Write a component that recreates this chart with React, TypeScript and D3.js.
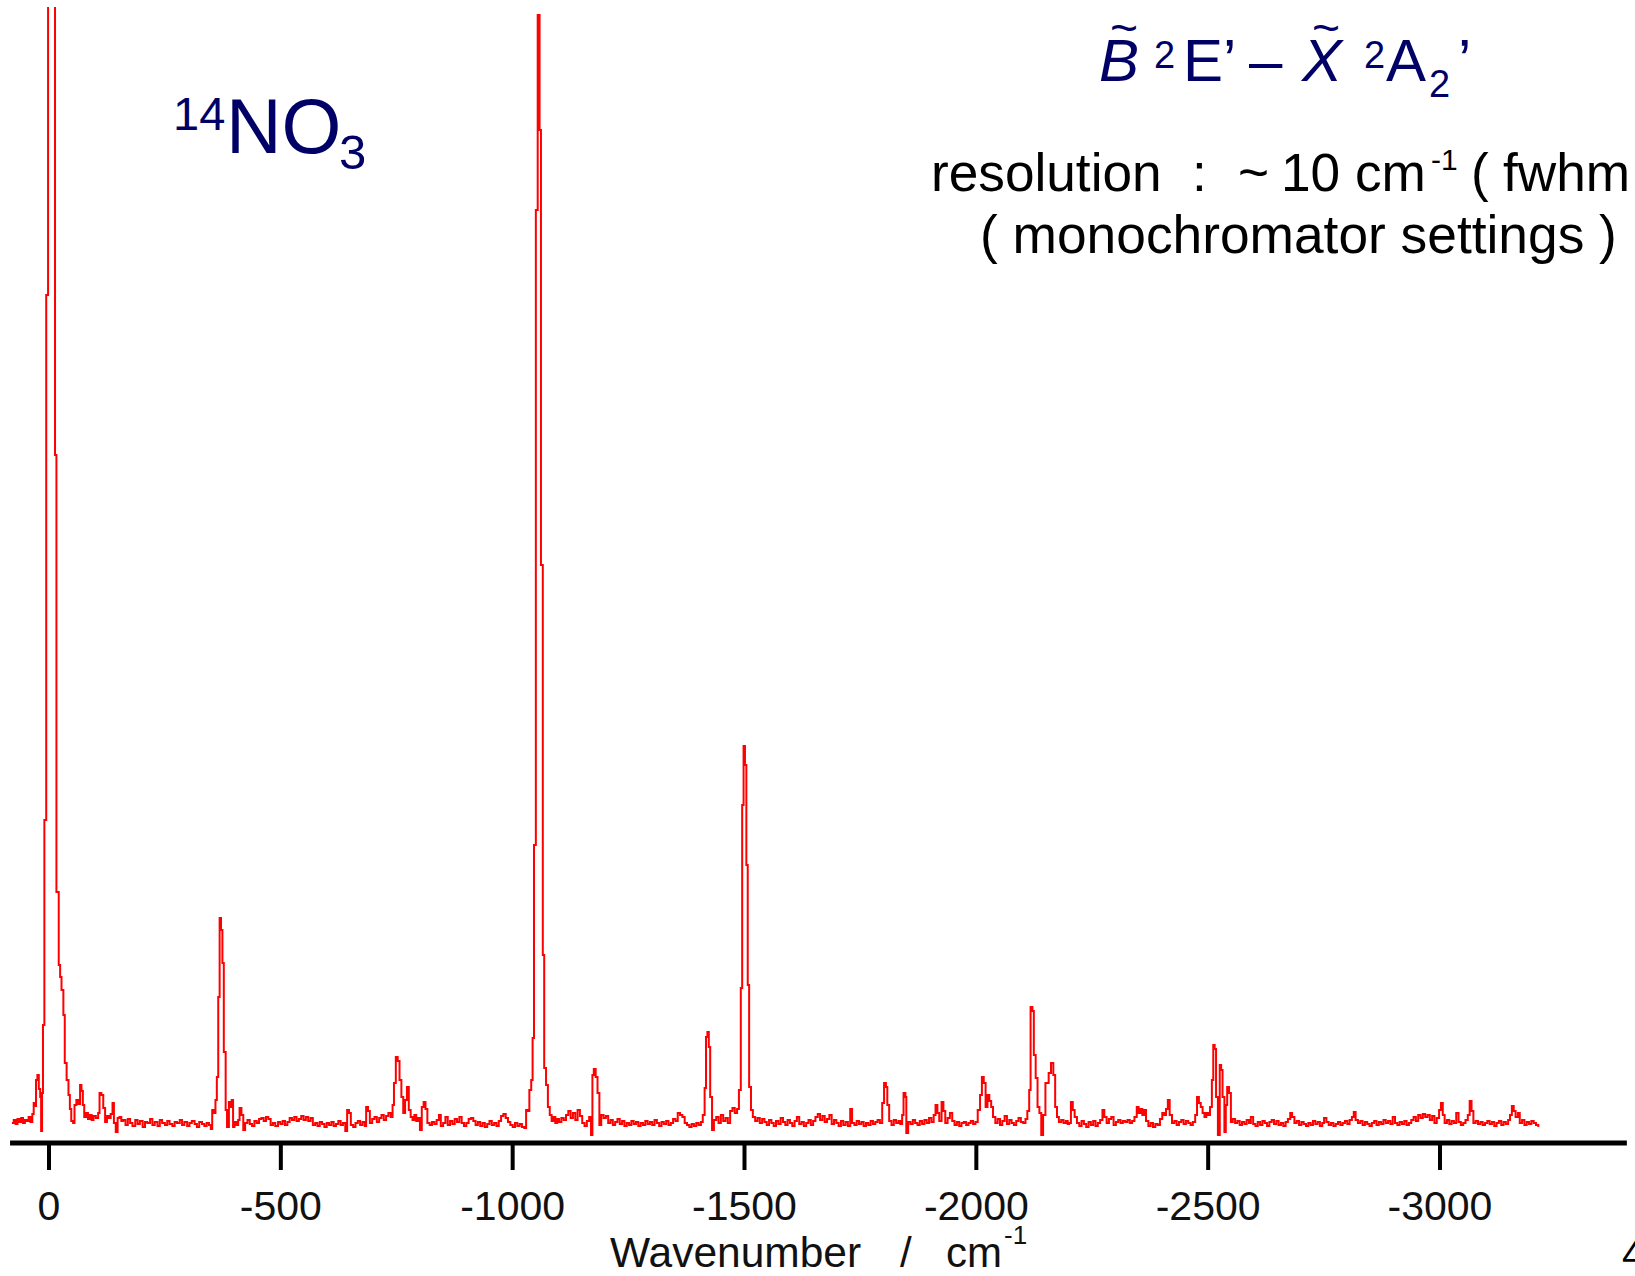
import React from "react";
import * as d3 from "d3";

// Spectrum: [wavenumber / cm^-1, intensity (arb.)]
const originBand: [number, number][] = [
  [80,12],[76,15],[72,11],[68,16],[64,13],[60,17],[56,12],[52,15],[48,14],[44,18],[40,13],[36,21],[33,32],[30,29],[28,55],[25,60],[22,46],[19,38],[17,4],[15,42],[13,110],[10,315],[6,840],[2,1500],[-13,680],[-16,243],[-21,170],[-24,158],[-27,145],[-31,120],[-34,72],[-38,55],[-42,40],[-45,26],[-48,14],[-52,12],[-55,30],[-59,35],[-63,31],[-67,50],[-70,44],[-73,30],[-76,18],[-80,22],[-84,16],[-88,20],[-92,15],[-96,19],[-101,17],[-106,22],[-109,42],[-113,40],[-117,27],[-121,13],[-125,19],[-129,17],[-133,21],[-137,32],[-140,12],[-144,3],[-148,17],[-152,18],[-156,14]
];

const band370: [number, number][] = [
  [-160,15],[-165,10],[-170,16],[-175,12],[-180,9],[-186,15],[-191,11],[-196,14],[-202,8],[-207,13],[-212,12],[-218,16],[-223,10],[-228,13],[-234,9],[-239,15],[-244,12],[-250,10],[-255,14],[-260,11],[-266,9],[-271,13],[-276,12],[-282,15],[-287,10],[-292,13],[-298,9],[-303,12],[-308,14],[-314,11],[-319,8],[-324,13],[-330,11],[-335,9],[-340,12],[-345,10],[-349,6],[-352,25],[-356,22],[-359,35],[-362,58],[-365,138],[-368,217],[-371,205],[-374,172],[-377,83],[-381,25],[-384,8],[-388,33],[-391,28],[-394,35],[-397,8],[-400,13],[-404,10],[-408,15],[-411,27],[-415,20],[-419,5]
];

const band755: [number, number][] = [
  [-423,12],[-428,15],[-433,11],[-438,9],[-443,14],[-448,12],[-453,16],[-458,17],[-463,14],[-468,18],[-473,16],[-478,10],[-483,12],[-488,9],[-494,13],[-499,11],[-504,14],[-509,10],[-514,13],[-519,17],[-524,15],[-529,18],[-534,14],[-539,16],[-544,19],[-549,15],[-554,18],[-559,14],[-564,17],[-569,10],[-574,12],[-579,9],[-584,13],[-589,11],[-594,8],[-599,12],[-604,10],[-609,13],[-614,9],[-619,11],[-624,14],[-629,10],[-634,12],[-639,4],[-643,25],[-647,22],[-651,10],[-656,8],[-661,12],[-666,14],[-671,10],[-676,13],[-681,9],[-684,28],[-688,24],[-692,12],[-697,16],[-702,18],[-707,13],[-712,17],[-717,20],[-722,15],[-727,19],[-732,22],[-737,18],[-741,30],[-744,52],[-748,78],[-752,74],[-756,55],[-760,38],[-764,22],[-768,35],[-772,48],[-776,25],[-780,18],[-784,15],[-788,20],[-792,14],[-796,17],[-800,5],[-804,28],[-808,33],[-812,26],[-816,12],[-821,10],[-826,13],[-831,11],[-836,15],[-841,20],[-845,9],[-850,12],[-855,18],[-860,10]
];

const band1050: [number, number][] = [
  [-865,14],[-870,11],[-875,16],[-880,13],[-885,18],[-890,12],[-895,9],[-900,12],[-905,16],[-910,17],[-915,14],[-920,10],[-925,13],[-930,9],[-935,12],[-940,8],[-945,11],[-950,14],[-955,10],[-960,12],[-965,9],[-970,14],[-975,19],[-980,21],[-985,17],[-990,13],[-995,10],[-1000,8],[-1005,12],[-1010,9],[-1015,11],[-1020,8],[-1025,7],[-1029,25],[-1033,24],[-1036,45],[-1040,55],[-1043,97],[-1046,290],[-1050,925],[-1054,1120],[-1058,1005],[-1061,570],[-1065,180],[-1068,67],[-1072,50],[-1076,28],[-1080,20],[-1084,14],[-1088,18],[-1092,12],[-1096,16],[-1100,13],[-1105,17],[-1110,15]
];

const band1180: [number, number][] = [
  [-1115,20],[-1120,24],[-1125,17],[-1130,22],[-1135,15],[-1140,25],[-1145,19],[-1150,12],[-1155,9],[-1160,14],[-1165,18],[-1169,0],[-1172,60],[-1175,66],[-1179,58],[-1183,42],[-1187,10],[-1191,20],[-1196,17],[-1201,19],[-1206,12],[-1211,15],[-1216,10],[-1221,13],[-1226,16],[-1231,11],[-1236,14],[-1241,9],[-1246,12],[-1251,10],[-1256,14],[-1261,11],[-1266,13],[-1271,9],[-1276,12],[-1281,10],[-1286,14],[-1291,11],[-1296,13],[-1301,10],[-1306,15],[-1311,12],[-1316,9],[-1321,13],[-1326,11],[-1331,14],[-1336,10],[-1341,12],[-1346,16],[-1351,14],[-1356,22],[-1361,20],[-1366,18],[-1371,12],[-1376,10],[-1381,8],[-1386,11],[-1391,9],[-1396,12],[-1401,10],[-1406,13]
];

const band1500: [number, number][] = [
  [-1410,20],[-1414,47],[-1417,98],[-1420,103],[-1423,88],[-1426,38],[-1430,5],[-1434,15],[-1439,18],[-1444,12],[-1449,20],[-1454,14],[-1459,17],[-1464,12],[-1469,24],[-1474,27],[-1479,22],[-1484,26],[-1488,45],[-1492,147],[-1495,330],[-1498,389],[-1501,370],[-1504,270],[-1507,150],[-1510,48],[-1514,25],[-1518,18],[-1523,14],[-1528,17],[-1533,12],[-1538,16],[-1543,13],[-1548,10],[-1553,15],[-1558,12],[-1563,9],[-1568,14],[-1573,11],[-1578,17],[-1583,13],[-1588,10],[-1593,15],[-1598,12],[-1603,9],[-1608,14],[-1613,18],[-1618,11],[-1623,13],[-1628,9],[-1633,12],[-1638,15],[-1643,10],[-1648,14],[-1653,18],[-1658,21],[-1663,15],[-1668,19],[-1673,13],[-1678,16],[-1683,20],[-1688,11],[-1693,15],[-1698,12],[-1703,9],[-1708,14],[-1713,10],[-1718,13],[-1723,9],[-1728,26],[-1732,12],[-1737,10],[-1742,14],[-1747,11],[-1752,13],[-1757,9],[-1762,12],[-1767,10],[-1772,14],[-1777,11],[-1782,13],[-1787,15],[-1792,12]
];

const band2120: [number, number][] = [
  [-1797,32],[-1801,52],[-1805,48],[-1808,30],[-1812,14],[-1817,10],[-1822,15],[-1827,12],[-1832,14],[-1836,11],[-1840,20],[-1843,42],[-1847,38],[-1849,2],[-1853,13],[-1858,11],[-1863,15],[-1868,12],[-1873,10],[-1878,14],[-1883,11],[-1888,15],[-1893,12],[-1898,17],[-1903,13],[-1908,20],[-1912,30],[-1916,22],[-1920,14],[-1925,33],[-1929,24],[-1933,12],[-1938,17],[-1943,22],[-1948,14],[-1953,10],[-1958,13],[-1963,9],[-1968,12],[-1973,13],[-1978,10],[-1983,12],[-1988,14],[-1993,11],[-1998,13],[-2003,25],[-2008,40],[-2012,58],[-2016,52],[-2020,28],[-2024,40],[-2028,34],[-2032,28],[-2036,18],[-2041,12],[-2046,16],[-2051,10],[-2056,14],[-2061,19],[-2066,11],[-2071,15],[-2076,12],[-2081,10],[-2086,14],[-2091,17],[-2096,13],[-2101,12],[-2106,16],[-2110,24],[-2114,45],[-2117,128],[-2121,124],[-2124,80],[-2128,57],[-2132,28],[-2136,22],[-2140,0],[-2144,20],[-2149,52],[-2156,62],[-2161,72],[-2166,60],[-2170,28],[-2174,18],[-2178,13],[-2183,15],[-2188,12],[-2193,14],[-2197,11]
];

const band2510: [number, number][] = [
  [-2200,12],[-2204,33],[-2208,25],[-2212,18],[-2217,12],[-2222,9],[-2227,14],[-2232,11],[-2237,8],[-2242,13],[-2247,10],[-2252,14],[-2257,9],[-2262,12],[-2267,15],[-2272,25],[-2276,18],[-2281,12],[-2286,16],[-2291,18],[-2296,10],[-2301,13],[-2306,15],[-2311,12],[-2316,14],[-2321,13],[-2326,15],[-2331,12],[-2336,14],[-2341,18],[-2346,28],[-2350,22],[-2354,26],[-2358,20],[-2362,25],[-2366,14],[-2371,9],[-2376,12],[-2381,8],[-2386,11],[-2391,10],[-2396,16],[-2401,22],[-2405,20],[-2409,26],[-2413,35],[-2417,20],[-2422,12],[-2427,14],[-2432,10],[-2437,13],[-2442,15],[-2447,11],[-2452,14],[-2457,12],[-2462,10],[-2467,13],[-2472,20],[-2476,38],[-2480,32],[-2484,28],[-2488,22],[-2492,18],[-2496,22],[-2500,20],[-2504,28],[-2508,55],[-2511,90],[-2514,86],[-2517,38],[-2521,0],[-2525,70],[-2528,65],[-2531,38],[-2535,3],[-2538,30],[-2541,48],[-2545,42],[-2549,13],[-2553,16],[-2558,12]
];

const tailBand: [number, number][] = [
  [-2563,14],[-2568,10],[-2573,13],[-2578,11],[-2583,15],[-2588,12],[-2592,18],[-2597,11],[-2602,9],[-2607,13],[-2612,10],[-2617,14],[-2622,12],[-2627,9],[-2632,13],[-2637,15],[-2642,11],[-2647,14],[-2652,10],[-2657,12],[-2662,9],[-2667,13],[-2672,16],[-2677,22],[-2681,18],[-2686,12],[-2691,14],[-2696,10],[-2701,13],[-2706,11],[-2711,9],[-2716,12],[-2721,10],[-2726,14],[-2731,11],[-2736,13],[-2741,9],[-2746,12],[-2750,17],[-2755,13],[-2760,10],[-2765,12],[-2770,9],[-2775,11],[-2780,13],[-2785,10],[-2790,12],[-2795,14],[-2800,11],[-2805,15],[-2810,18],[-2814,23],[-2818,15],[-2823,12],[-2828,14],[-2833,10],[-2838,13],[-2843,11],[-2848,9],[-2853,12],[-2858,14],[-2863,10],[-2868,13],[-2873,11],[-2878,15],[-2883,12],[-2888,14],[-2893,11],[-2898,18],[-2903,12],[-2908,10],[-2913,13],[-2918,11],[-2923,14],[-2928,10],[-2933,12],[-2938,15],[-2943,18],[-2948,14],[-2953,20],[-2958,17],[-2963,21],[-2968,18],[-2973,20],[-2978,15],[-2983,19],[-2988,12],[-2993,17],[-2998,25],[-3002,32],[-3006,20],[-3010,12],[-3015,15],[-3020,11],[-3025,14],[-3030,12],[-3035,22],[-3040,13],[-3045,10],[-3050,12],[-3055,15],[-3060,20],[-3064,34],[-3068,24],[-3072,12],[-3077,14],[-3082,11],[-3087,13],[-3092,10],[-3097,12],[-3102,14],[-3107,11],[-3112,13],[-3117,9],[-3122,12],[-3127,14],[-3132,10],[-3137,13],[-3142,11],[-3147,15],[-3151,20],[-3155,29],[-3159,24],[-3163,18],[-3168,22],[-3172,12],[-3177,15],[-3182,10],[-3187,13],[-3192,11],[-3197,14],[-3202,12],[-3207,10],[-3212,8]
];

const tickValues: number[] = [0, -500, -1000, -1500, -2000, -2500, -3000];
const axisExtent: [number, number] = [84, -3403];

const FONT = "'Liberation Sans', Arial, Helvetica, sans-serif";
const NAVY = "#000066";

export default function App() {
  const W = 1635;
  const H = 1276;
  const x = d3.scaleLinear().domain([0, -3000]).range([49, 1440]);
  const y = d3.scaleLinear().domain([0, 1120]).range([1135, 15]);
  const data = [
    ...originBand, ...band370, ...band755, ...band1050, ...band1180,
    ...band1500, ...band2120, ...band2510, ...tailBand,
  ];
  const line = d3
    .line<[number, number]>()
    .x((d) => x(d[0]))
    .y((d) => y(d[1]))
    .curve(d3.curveStepAfter);
  const axisY = 1143;

  return (
    <svg
      width={W}
      height={H}
      viewBox={`0 0 ${W} ${H}`}
      style={{ position: "absolute", left: 0, top: 0, background: "#fff" }}
      fontFamily={FONT}
    >
      <defs>
        <clipPath id="plotclip">
          <rect x={0} y={7} width={W} height={1140} />
        </clipPath>
      </defs>
      <rect x={0} y={0} width={W} height={H} fill="#fff" />

      {/* spectrum */}
      <path
        d={line(data) || ""}
        fill="none"
        stroke="#ff0000"
        strokeWidth={2}
        clipPath="url(#plotclip)"
      />

      {/* x axis */}
      <line
        x1={x(axisExtent[0])}
        x2={x(axisExtent[1])}
        y1={axisY}
        y2={axisY}
        stroke="#000"
        strokeWidth={5}
      />
      {tickValues.map((v) => (
        <g key={v}>
          <line x1={x(v)} x2={x(v)} y1={axisY} y2={1170} stroke="#000" strokeWidth={4} />
          <text x={x(v)} y={1220} fontSize={41} textAnchor="middle" fill="#111">
            {String(v)}
          </text>
        </g>
      ))}
      <text x={610} y={1267} fontSize={42.5} fill="#111">Wavenumber</text>
      <text x={900} y={1267} fontSize={42} fill="#111">/</text>
      <text x={946} y={1267} fontSize={42} fill="#111">cm</text>
      <text x={1004} y={1244} fontSize={26} fill="#111">-1</text>
      <text x={1622} y={1268} fontSize={40} fill="#000">4</text>

      {/* 14NO3 */}
      <text x={173} y={130} fontSize={47} fill={NAVY}>14</text>
      <text x={226} y={153} fontSize={77} fill={NAVY}>NO</text>
      <text x={339} y={169} fontSize={49} fill={NAVY}>3</text>

      {/* transition label */}
      <text x={1099} y={81} fontSize={60} fontStyle="italic" fill={NAVY}>B</text>
      <text x={1110} y={44} fontSize={48} fill={NAVY}>~</text>
      <text x={1154} y={68} fontSize={38} fill={NAVY}>2</text>
      <text x={1183} y={81} fontSize={60} fill={NAVY}>E’</text>
      <text x={1249} y={81} fontSize={60} fill={NAVY}>–</text>
      <text x={1302} y={81} fontSize={60} fontStyle="italic" fill={NAVY}>X</text>
      <text x={1312} y={44} fontSize={48} fill={NAVY}>~</text>
      <text x={1364} y={68} fontSize={38} fill={NAVY}>2</text>
      <text x={1386} y={81} fontSize={60} fill={NAVY}>A</text>
      <text x={1429} y={97} fontSize={38} fill={NAVY}>2</text>
      <text x={1458} y={81} fontSize={60} fill={NAVY}>’</text>

      {/* resolution note */}
      <text x={931} y={191} fontSize={53.2} fill="#000">resolution</text>
      <text x={1192} y={191} fontSize={53.2} fill="#000">:</text>
      <text x={1238} y={191} fontSize={53.2} fill="#000">~</text>
      <text x={1281} y={191} fontSize={53.2} fill="#000">10</text>
      <text x={1355} y={191} fontSize={53.2} fill="#000">cm</text>
      <text x={1431} y={170} fontSize={30} fill="#000">-1</text>
      <text x={1471} y={191} fontSize={53.2} fill="#000">(</text>
      <text x={1503} y={191} fontSize={53.2} fill="#000">fwhm )</text>
      <text x={980} y={253} fontSize={53.3} fill="#000">( monochromator settings )</text>
    </svg>
  );
}
